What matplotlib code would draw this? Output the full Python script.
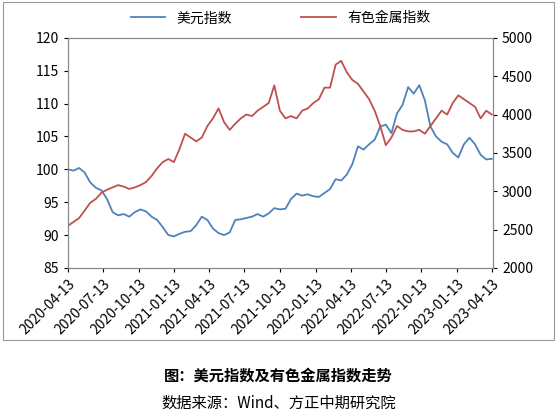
import matplotlib
matplotlib.use("Agg")
import matplotlib.pyplot as plt
import pandas as pd

plt.rcParams['font.family'] = ['Noto Sans CJK SC', 'DejaVu Sans']

usd = [100.0, 99.8, 100.2, 99.5, 98.0, 97.2, 96.8, 95.5, 93.5, 93.0, 93.2, 92.8, 93.5, 93.9, 93.6, 92.8,
       92.3, 91.2, 90.0, 89.8, 90.2, 90.5, 90.6, 91.5, 92.8, 92.3, 91.0, 90.3, 90.0, 90.4, 92.3, 92.4,
       92.6, 92.8, 93.2, 92.8, 93.3, 94.1, 93.9, 94.0, 95.5, 96.3, 96.0, 96.2, 95.9, 95.8, 96.4, 97.0,
       98.5, 98.3, 99.2, 100.8, 103.5, 103.0, 103.8, 104.5, 106.5, 106.8, 105.5, 108.5, 109.8, 112.5,
       111.5, 112.8, 110.5, 106.5, 105.0, 104.2, 103.8, 102.5, 101.8, 103.8, 104.8, 103.8, 102.2, 101.5, 101.6]
metal = [2550, 2600, 2650, 2750, 2850, 2900, 2980, 3020, 3050, 3080, 3060, 3030, 3050, 3080, 3120, 3200,
         3300, 3380, 3420, 3380, 3550, 3750, 3700, 3650, 3700, 3850, 3950, 4080, 3900, 3800, 3880, 3950,
         4000, 3980, 4050, 4100, 4150, 4380, 4050, 3950, 3980, 3950, 4050, 4080, 4150, 4200, 4350, 4350,
         4650, 4700, 4550, 4450, 4400, 4300, 4200, 4050, 3850, 3600, 3700, 3850, 3800, 3780, 3780, 3800,
         3750, 3850, 3950, 4050, 4000, 4150, 4250, 4200, 4150, 4100, 3950, 4050, 4000]
start, end = pd.Timestamp("2020-04-13"), pd.Timestamp("2023-04-13")
dates = pd.date_range(start, end, periods=len(usd))

ticks = pd.date_range("2020-04-01", "2023-04-01", freq="3MS") + pd.Timedelta(days=12)

fig = plt.figure(figsize=(5.57, 4.2), dpi=100)
ax = fig.add_axes([0.122, 0.362, 0.763, 0.548])
ax2 = ax.twinx()
l1, = ax.plot(dates, usd, color="#4F81BD", lw=1.3, label="美元指数")
l2, = ax2.plot(dates, metal, color="#C0504D", lw=1.3, label="有色金属指数")
ax.set_ylim(85, 120); ax.set_yticks(range(85, 121, 5))
ax2.set_ylim(2000, 5000); ax2.set_yticks(range(2000, 5001, 500))
ax.set_xlim(start, pd.Timestamp("2023-04-16"))
ax.set_xticks(ticks)
ax.set_xticklabels([d.strftime("%Y-%m-%d") for d in ticks], rotation=45, ha="right",
                   rotation_mode="anchor", fontsize=9)
for a in (ax, ax2):
    a.tick_params(labelsize=10, length=3)
    for s in a.spines.values():
        s.set_color("#888888")
ax.legend(handles=[l1, l2], loc="lower center", bbox_to_anchor=(0.5, 1.0), ncol=2, frameon=False,
          fontsize=10, handlelength=2.5, columnspacing=5)
fig.text(0.5, 0.095, "图：美元指数及有色金属指数走势", ha="center", fontsize=11, fontweight="bold")
fig.text(0.5, 0.03, "数据来源：Wind、方正中期研究院", ha="center", fontsize=11)
fig.add_artist(plt.Rectangle((0.005, 0.19), 0.99, 0.805, transform=fig.transFigure, fill=False,
                             edgecolor="#999999", lw=0.8))
fig.savefig("out.png", dpi=100)
